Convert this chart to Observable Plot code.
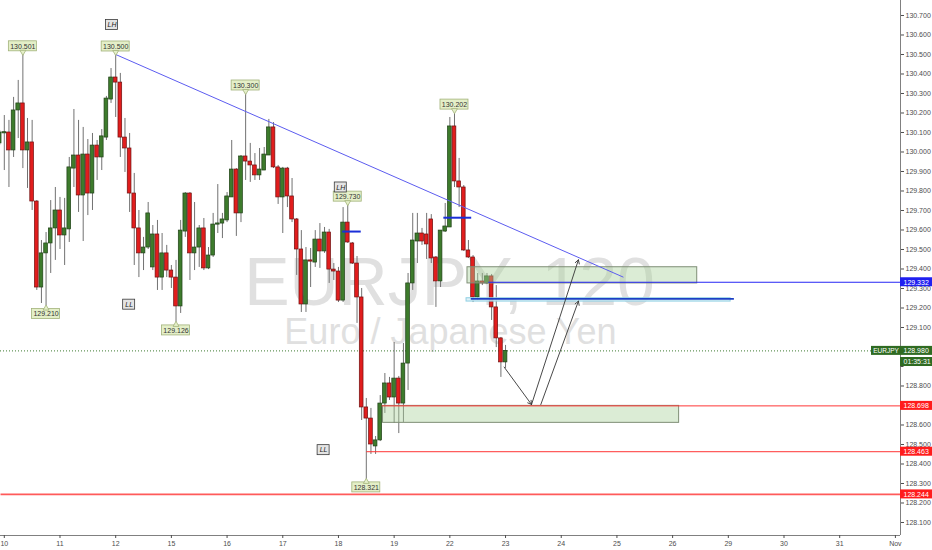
<!DOCTYPE html>
<html><head><meta charset="utf-8">
<script src="https://cdn.jsdelivr.net/npm/d3@7"></script>
<script src="https://cdn.jsdelivr.net/npm/@observablehq/plot@0.6"></script>
<style>html,body{margin:0;padding:0;background:#fff;}#chart svg{display:block;}</style>
</head><body><div id="chart"></div>
<script>
// ---- data (EURJPY, 120-minute bars; first bar index = -1) ----
const firstBar = -1;
const opens = [130.044,130.097,130.100,130.008,130.213,130.249,130.008,130.049,129.746,129.305,
129.480,129.531,129.608,129.700,129.572,129.603,129.915,129.982,129.777,129.987,
129.787,130.033,129.972,130.074,130.269,130.382,130.356,130.074,130.018,129.787,
129.608,129.480,129.510,129.408,129.577,129.356,129.480,129.392,129.356,129.208,
129.592,129.787,129.480,129.510,129.608,129.403,129.469,129.628,129.633,129.649,
129.767,129.910,129.685,129.977,129.951,129.931,129.880,129.905,129.982,130.126,
129.921,129.767,129.915,129.772,129.654,129.500,129.218,129.444,129.433,129.551,
129.490,129.587,129.397,129.387,129.238,129.638,129.531,129.428,129.254,128.690,
128.633,128.490,128.521,128.710,128.813,128.741,128.838,128.710,128.915,129.326,
129.541,129.582,129.577,129.654,129.459,129.336,129.592,129.613,130.131,129.849,
129.818,129.495,129.459,129.254,129.336,129.326,129.362,129.203,129.044,128.921];
const highs = [130.110,130.187,130.162,130.280,130.367,130.501,130.172,130.162,129.751,129.546,
129.587,129.751,129.818,129.767,129.762,129.972,130.218,130.162,130.126,130.064,
130.095,130.059,130.115,130.285,130.428,130.500,130.403,130.172,130.095,129.890,
129.700,129.562,129.741,129.623,129.649,129.582,129.521,129.418,129.444,129.649,
129.792,129.792,129.741,129.623,129.659,129.510,129.685,129.833,129.685,129.792,
130.059,129.915,129.982,130.300,130.044,129.992,130.018,130.023,130.167,130.151,
129.931,129.921,129.921,129.864,129.659,129.597,129.510,129.505,129.597,129.633,
129.613,129.603,129.428,129.408,129.715,129.730,129.536,129.464,129.300,128.736,
128.685,128.541,128.751,128.864,128.844,129.023,128.849,129.018,129.377,129.685,
129.685,129.608,129.685,129.679,129.464,129.597,129.736,130.177,130.202,129.967,
129.828,129.546,129.469,129.377,129.377,129.377,129.372,129.315,129.049,129.008];
const lows = [130.033,129.905,129.818,129.972,130.069,129.915,129.813,129.700,129.290,129.223,
129.210,129.377,129.444,129.500,129.418,129.536,129.818,129.690,129.541,129.674,
129.700,129.854,129.905,130.059,130.249,130.177,129.972,129.895,129.690,129.418,
129.356,129.392,129.500,129.392,129.290,129.290,129.356,129.300,129.126,129.172,
129.562,129.341,129.392,129.408,129.392,129.397,129.459,129.582,129.556,129.638,
129.767,129.567,129.638,129.854,129.844,129.854,129.854,129.905,129.982,129.915,
129.731,129.582,129.715,129.638,129.367,129.177,129.177,129.305,129.408,129.403,
129.480,129.326,129.341,129.228,129.228,129.531,129.423,129.121,128.623,128.321,
128.449,128.449,128.515,128.659,128.726,128.608,128.556,128.613,128.777,129.290,
129.428,129.521,129.449,129.428,129.203,129.305,129.587,129.613,129.818,129.715,
129.490,129.454,129.228,129.238,129.315,129.321,129.136,128.997,128.844,128.890];
const closes = [130.100,130.100,130.008,130.213,130.249,130.008,130.049,129.746,129.305,129.480,
129.531,129.608,129.700,129.572,129.608,129.921,129.982,129.777,129.987,129.787,
130.033,129.972,130.080,130.274,130.382,130.356,130.074,130.018,129.787,129.608,
129.480,129.510,129.685,129.577,129.356,129.480,129.392,129.356,129.208,129.597,
129.787,129.480,129.510,129.608,129.403,129.469,129.628,129.633,129.654,129.772,
129.910,129.685,129.977,129.951,129.931,129.880,129.910,129.987,130.126,129.921,
129.767,129.915,129.772,129.654,129.500,129.218,129.444,129.438,129.551,129.490,
129.587,129.397,129.387,129.238,129.638,129.536,129.428,129.254,128.690,128.633,
128.500,128.521,128.710,128.813,128.741,128.838,128.710,128.915,129.326,129.546,
129.582,129.541,129.526,129.454,129.336,129.597,129.618,130.131,129.849,129.818,
129.495,129.459,129.254,129.336,129.326,129.362,129.203,129.044,128.921,128.980];

const dayLabels = ["10","11","12","15","16","17","18","19","22","23","24","25","26","29","30","31","Nov"];
const barsPerDay = 12;
const priceTicks = d3.range(1281, 1308).map(d => d / 10);

// pivot labels (bar, price, side)
const pivotBars   = [4, 24, 52, 74, 97, 9, 37, 78];
const pivotPrices = [130.501, 130.500, 130.300, 129.730, 130.202, 129.210, 129.126, 128.321];
const pivotSides  = ["above","above","above","above","above","below","below","below"];
// LH / LL tags
const swingText   = ["LH", "LH", "LL", "LL"];
const swingBars   = [23.2, 72.5, 26.9, 68.8];
const swingPrices = [130.651, 129.818, 129.217, 128.471];
// horizontal levels
const levelPrices = [129.332, 128.698, 128.463, 128.244];
const levelStart  = [104.3, 81.3, 78, -1];
const levelKinds  = ["blue", "red", "red", "red"];
// zones
const zoneBar1 = [99.8, 81.6], zoneBar2 = [149.3, 145.4];
const zoneLow = [129.326, 128.611], zoneHigh = [129.409, 128.698];
const bandBars = [99.6, 156.5], bandPrices = [129.233, 129.250], bandLine = 129.247, bandLineBars = [100.5, 157.2];
// trend line
const trendBars = [24, 133.4], trendPrices = [130.500, 129.358];
// short blue marks
const markBar1 = [72.8, 94.6], markBar2 = [76.8, 100.6], markPrices = [129.592, 129.663];
// projected path arrows
const arrowBar1 = [107.7, 113.6, 115.6], arrowBar2 = [113.6, 123.7, 123.7];
const arrowPrice1 = [128.897, 128.705, 128.705], arrowPrice2 = [128.705, 129.447, 129.235];
// last price
const lastPrice = 128.980, countdown = "01:35:31", countdownPrice = 128.923, symbol = "EURJPY";

// ---- layout ----
const W = 932, H = 550, plotRight = 900, plotBottom = 535;
const xDomain = [-0.819, 193.1];
const yDomain = [128.0333, 130.7769];
const xPx = (xDomain[1] - xDomain[0]) / plotRight;
const yPx = (yDomain[1] - yDomain[0]) / plotBottom;
const xEnd = xDomain[1];

const GREEN = "#3d7b2c", GREEN_S = "#1f4016", RED = "#e11d1d", RED_S = "#6e1010";

const bars = opens.map((o, i) => {
  const c = closes[i];
  let lo = Math.min(o, c), hi = Math.max(o, c);
  if (hi - lo < 1.2 * yPx) { const m = (hi + lo) / 2; lo = m - 0.6 * yPx; hi = m + 0.6 * yPx; }
  return {k: firstBar + i, o, c, h: highs[i], l: lows[i], lo, hi, up: c >= o};
});
const pivots = pivotBars.map((k, i) => {
  const p = pivotPrices[i], above = pivotSides[i] === "above";
  return {k, p, above, cy: above ? p + 8 * yPx : p - 8 * yPx, ty: above ? p + 2.3 * yPx : p - 2.3 * yPx};
});
const swings = swingText.map((t, i) => ({t, k: swingBars[i], p: swingPrices[i]}));
const levels = levelPrices.map((p, i) => ({p, k: levelStart[i] < xDomain[0] ? xDomain[0] : levelStart[i],
  color: levelKinds[i] === "blue" ? "#2626f5" : (i === 3 ? "#ff5a5a" : "#ff3535"),
  w: i === 3 ? 1.6 : 1}));
const zones = zoneBar1.map((k1, i) => ({k1, k2: zoneBar2[i], p1: zoneLow[i], p2: zoneHigh[i]}));
const marks2 = markBar1.map((k1, i) => ({k1, k2: markBar2[i], p: markPrices[i]}));
const arrows = arrowBar1.map((k1, i) => ({k1, k2: arrowBar2[i], p1: arrowPrice1[i], p2: arrowPrice2[i]}));
const tags = [
  {p: levelPrices[0], t: levelPrices[0].toFixed(3), color: "#2020f0"},
  {p: lastPrice, t: lastPrice.toFixed(3), color: "#2f6b22"},
  {p: countdownPrice, t: countdown, color: "#2f6b22"},
  {p: levelPrices[1], t: levelPrices[1].toFixed(3), color: "#ff1c1c"},
  {p: levelPrices[2], t: levelPrices[2].toFixed(3), color: "#ff1c1c"},
  {p: levelPrices[3], t: levelPrices[3].toFixed(3), color: "#ff1c1c"}
];
// tick labels that sit under a price tag are covered (as on the reference)
const covered = t => tags.some(g => Math.abs(g.p - t) < 5 * yPx);
const labelTicks = priceTicks.filter(t => !covered(t));
const coveredTicks = priceTicks.filter(covered);
const dayTicks = dayLabels.map((_, i) => i * barsPerDay);

const chart = Plot.plot({
  width: W, height: H,
  marginLeft: 0, marginRight: W - plotRight, marginTop: 0, marginBottom: H - plotBottom,
  x: {type: "linear", domain: xDomain, axis: null},
  y: {type: "linear", domain: yDomain, axis: null},
  color: {type: "identity"},
  style: {fontFamily: "'Liberation Sans', Arial, sans-serif", background: "#fff", overflow: "visible"},
  marks: [
    // watermark
    Plot.text([symbol + ", 120"], {text: d => d, frameAnchor: "top-left", dx: 449, dy: 256.5, fontSize: 68, fill: "#e0e0e0", textAnchor: "middle"}),
    Plot.text(["Euro / Japanese Yen"], {text: d => d, frameAnchor: "top-left", dx: 450, dy: 318, fontSize: 36, fill: "#e0e0e0", textAnchor: "middle"}),
    // last price dotted line
    Plot.ruleY([lastPrice], {stroke: "#3e7a31", strokeDasharray: "1,2", strokeWidth: 1}),
    // candles
    Plot.ruleX(bars, {x: "k", y1: "l", y2: "h", stroke: "#727272", strokeWidth: 1, clip: true}),
    Plot.rect(bars.filter(d => d.up), {x1: d => d.k - 0.4, x2: d => d.k + 0.4, y1: "lo", y2: "hi", fill: GREEN, stroke: GREEN_S, strokeWidth: 0.7, clip: true}),
    Plot.rect(bars.filter(d => !d.up), {x1: d => d.k - 0.4, x2: d => d.k + 0.4, y1: "lo", y2: "hi", fill: RED, stroke: RED_S, strokeWidth: 0.7, clip: true}),
    // zones
    Plot.rect(zones, {x1: "k1", x2: "k2", y1: "p1", y2: "p2", fill: "#a9d19a", fillOpacity: 0.42, stroke: "#7f8f76", strokeWidth: 1}),
    Plot.rect([0], {x1: () => bandBars[0], x2: () => bandBars[1], y1: () => bandPrices[0], y2: () => bandPrices[1], fill: "#d7eef6", fillOpacity: 0.8, stroke: "#8fcfe2", strokeWidth: 1}),
    Plot.link([0], {x1: () => bandLineBars[0], x2: () => bandLineBars[1], y1: () => bandLine, y2: () => bandLine, stroke: "#1c3fc4", strokeWidth: 1.6}),
    // levels
    Plot.link(levels, {x1: "k", x2: () => xEnd, y1: "p", y2: "p", stroke: "color", strokeWidth: "w"}),
    // trend line
    Plot.link([0], {x1: () => trendBars[0], x2: () => trendBars[1], y1: () => trendPrices[0], y2: () => trendPrices[1], stroke: "#5c5cf0", strokeWidth: 1}),
    // short blue marks
    Plot.link(marks2, {x1: "k1", x2: "k2", y1: "p", y2: "p", stroke: "#1a2fd8", strokeWidth: 2}),
    // arrows
    Plot.arrow(arrows, {x1: "k1", y1: "p1", x2: "k2", y2: "p2", stroke: "#333", strokeWidth: 0.9, headLength: 7}),
    // pivot labels
    Plot.rect(pivots, {x1: d => d.k - 14 * xPx, x2: d => d.k + 14 * xPx, y1: d => d.cy - 5 * yPx, y2: d => d.cy + 5 * yPx, fill: "#e4efc8", stroke: "#a2b27a", strokeWidth: 0.8}),
    Plot.dot(pivots, {x: "k", y: "ty", symbol: "triangle", r: 2.2, rotate: d => d.above ? 180 : 0, fill: "#e4efc8", stroke: "#a2b27a", strokeWidth: 0.8}),
    Plot.text(pivots, {x: "k", y: "cy", text: d => d.p.toFixed(3), fontSize: 7, fill: "#333"}),
    // LH / LL
    Plot.rect(swings, {x1: d => d.k - 6 * xPx, x2: d => d.k + 6 * xPx, y1: d => d.p - 5 * yPx, y2: d => d.p + 5 * yPx, fill: "#e4e4e4", stroke: "#3a3a3a", strokeWidth: 0.8}),
    Plot.text(swings, {x: "k", y: "p", text: "t", fontSize: 7, fontStyle: "italic", fill: "#222"}),
    // axes
    Plot.ruleX([xEnd], {stroke: "#808080", strokeWidth: 1}),
    Plot.ruleY([yDomain[0]], {stroke: "#808080", strokeWidth: 1}),
    Plot.axisY(labelTicks, {anchor: "right", tickFormat: d => d.toFixed(3), tickSize: 3, tickPadding: 2, fontSize: 7, color: "#4d4d4d", label: null}),
    Plot.link(coveredTicks, {x1: () => xEnd, x2: () => xEnd + 3 * xPx, y1: d => d, y2: d => d, stroke: "#4d4d4d"}),
    Plot.axisX(dayTicks, {anchor: "bottom", tickFormat: d => dayLabels[Math.round(d / barsPerDay)], tickSize: 3, tickPadding: 3, fontSize: 7, color: "#4d4d4d", label: null}),
    // price tags on the axis
    Plot.rect(tags, {x1: () => xEnd, x2: () => xEnd + 32 * xPx, y1: d => d.p - 4.5 * yPx, y2: d => d.p + 4.5 * yPx, fill: "color"}),
    Plot.text(tags, {x: () => xEnd, y: "p", text: "t", dx: 3, textAnchor: "start", fill: "white", fontSize: 7}),
    Plot.rect([0], {x1: () => xEnd - 29 * xPx, x2: () => xEnd, y1: () => lastPrice - 4.5 * yPx, y2: () => lastPrice + 4.5 * yPx, fill: "#2f6b22"}),
    Plot.text([symbol], {x: () => xEnd - 14.5 * xPx, y: () => lastPrice, text: d => d, fill: "white", fontSize: 6.5})
  ]
});
document.getElementById("chart").appendChild(chart);
</script>
</body></html>
